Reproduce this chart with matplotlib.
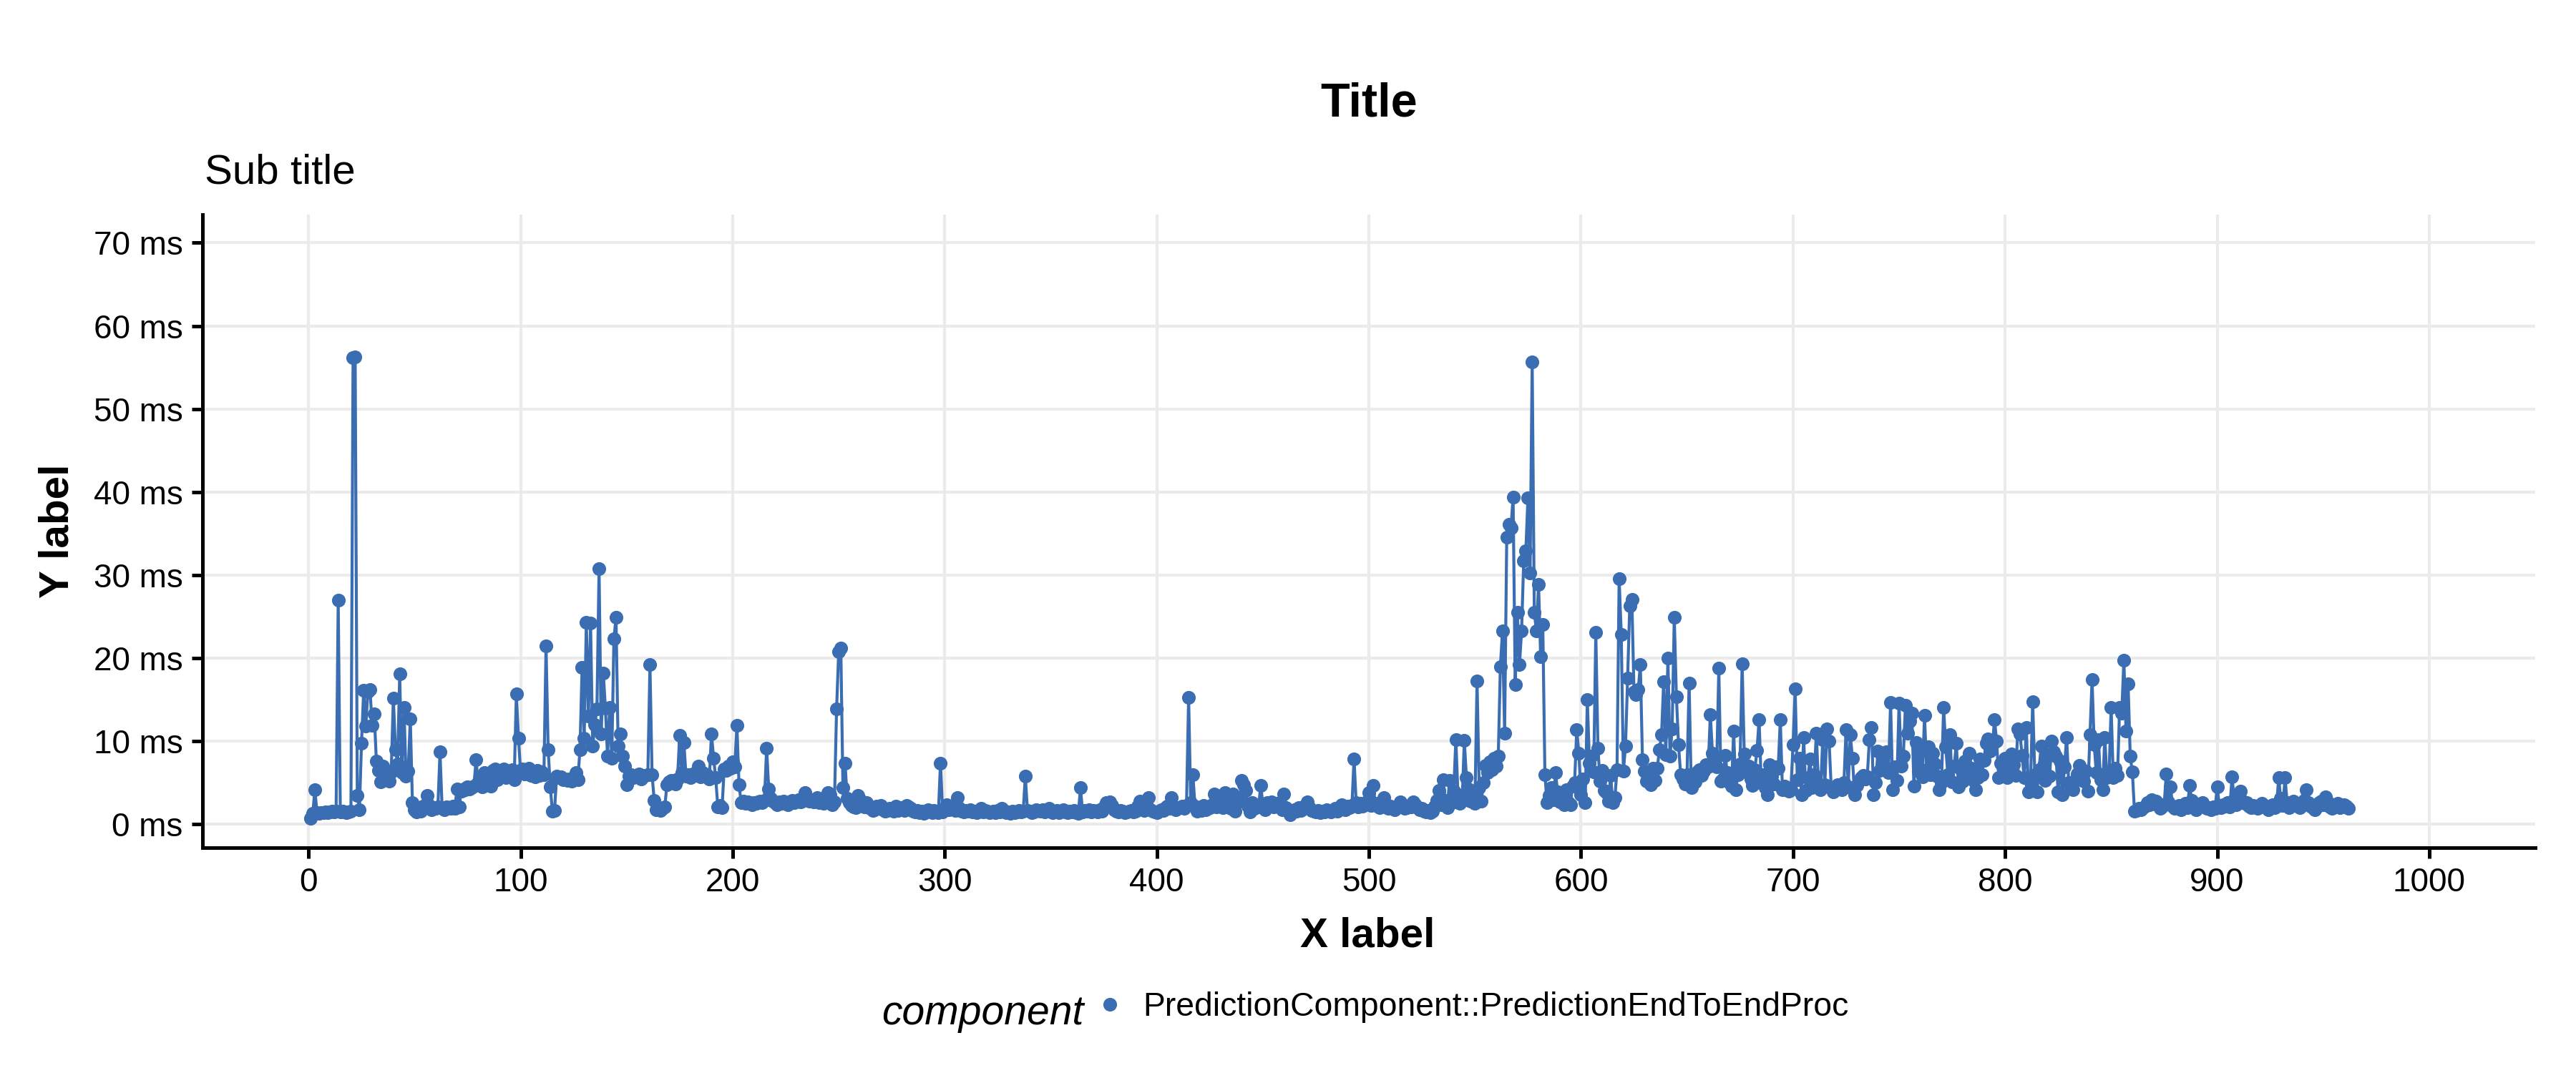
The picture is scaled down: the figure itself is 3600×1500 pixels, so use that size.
import numpy as np
import matplotlib

matplotlib.use("Agg")
import matplotlib.pyplot as plt
from matplotlib.lines import Line2D
from matplotlib.ticker import FuncFormatter, MultipleLocator

plt.rcParams["font.family"] = ["Liberation Sans", "DejaVu Sans"]

# latency per sample (ms), samples 1..962
latency_ms = [
    # 1-100
    0.7, 1.3, 4.2, 1.4, 1.3, 1.4, 1.4, 1.5, 1.4, 1.5,
    1.6, 1.5, 1.6, 27.0, 1.5, 1.6, 1.5, 1.4, 1.5, 1.6,
    56.2, 56.3, 3.5, 1.8, 9.8, 16.1, 11.8, 16.0, 16.2, 11.9,
    13.3, 7.6, 6.5, 5.1, 7.0, 5.8, 6.2, 5.2, 6.3, 15.2,
    9.0, 7.3, 18.1, 6.2, 14.1, 5.8, 6.4, 12.7, 2.6, 1.8,
    1.5, 1.7, 1.6, 2.2, 2.0, 3.5, 2.3, 1.8, 2.0, 1.9,
    2.1, 8.7, 2.0, 1.8, 2.1, 2.0, 1.9, 2.2, 1.9, 4.3,
    2.1, 4.0, 4.3, 4.2, 4.5, 4.3, 4.4, 4.6, 7.8, 5.0,
    4.8, 4.5, 6.2, 4.9, 5.3, 4.6, 6.5, 6.7, 5.4, 5.9,
    6.1, 6.7, 5.6, 6.4, 6.0, 6.6, 5.4, 15.7, 10.4, 6.3,
    # 101-200
    6.7, 6.1, 6.6, 6.8, 5.9, 6.2, 5.7, 6.5, 5.9, 6.3,
    6.0, 21.5, 9.0, 4.5, 1.6, 1.7, 5.8, 5.6, 5.7, 5.4,
    5.5, 5.3, 5.5, 5.2, 5.6, 6.2, 5.4, 9.0, 18.9, 10.4,
    24.3, 13.0, 24.2, 9.4, 12.0, 13.9, 30.8, 10.9, 18.2, 14.0,
    8.2, 14.1, 8.0, 22.3, 24.9, 9.4, 10.9, 8.2, 7.0, 4.8,
    5.8, 6.0, 5.6, 5.9, 5.7, 6.1, 5.5, 5.8, 5.9, 6.0,
    19.2, 6.0, 2.9, 1.8, 1.8, 1.7, 1.9, 2.1, 4.8, 5.1,
    5.3, 5.0, 4.9, 5.5, 10.7, 6.2, 9.9, 5.8, 6.0, 5.6,
    6.1, 5.9, 6.4, 7.0, 5.7, 6.2, 5.8, 6.0, 5.5, 10.9,
    8.0, 5.6, 2.1, 2.3, 2.0, 6.7, 6.5, 7.0, 6.8, 7.5,
    # 201-300
    6.9, 11.9, 4.8, 2.6, 2.8, 2.5, 2.7, 2.6, 2.4, 2.6,
    2.5, 2.7, 2.8, 2.6, 2.9, 9.2, 4.3, 3.1, 2.8, 2.6,
    2.4, 2.7, 2.5, 2.8, 2.6, 2.4, 2.7, 2.9, 2.6, 2.8,
    3.0, 2.7, 2.9, 3.8, 3.1, 2.8, 3.0, 2.7, 2.9, 3.2,
    2.6, 2.8, 2.5, 3.0, 3.8, 3.6, 2.4, 2.7, 13.9, 20.8,
    21.2, 4.4, 7.4, 3.1, 2.6, 2.3, 2.1, 2.0, 3.5, 3.0,
    2.4, 2.1, 2.6, 2.0, 1.9, 1.7, 1.8, 2.2, 1.9, 2.3,
    1.8, 1.6, 1.7, 1.9, 1.8, 1.6, 2.2, 1.7, 2.0, 1.8,
    1.7, 2.3, 2.1, 1.9, 1.6, 1.5, 1.7, 1.4, 1.6, 1.3,
    1.5, 1.8, 1.6, 1.4, 1.7, 1.5, 1.4, 7.4, 1.5, 1.9,
    # 301-400
    2.4, 1.8, 2.1, 1.9, 1.7, 3.2, 1.9, 1.6, 1.5, 1.7,
    1.6, 1.8, 1.5, 1.6, 1.4, 1.6, 1.9, 1.5, 1.7, 1.6,
    1.4, 1.5, 1.6, 1.4, 1.7, 1.5, 1.9, 1.6, 1.4, 1.5,
    1.3, 1.6, 1.4, 1.5, 1.7, 1.5, 1.6, 5.8, 1.7, 1.6,
    1.4, 1.5, 1.8, 1.7, 1.6, 1.8, 1.5, 1.7, 1.9, 1.6,
    1.4, 1.5, 1.7, 1.4, 1.6, 1.8, 1.5, 1.4, 1.6, 1.5,
    1.7, 1.4, 1.3, 4.4, 1.5, 1.7, 1.6, 1.8, 1.5, 1.7,
    1.6, 1.5, 1.8, 1.6, 2.1, 2.6, 2.5, 2.7, 2.3, 1.8,
    1.6, 1.5, 1.7, 1.6, 1.4, 1.5, 1.6, 1.7, 1.5, 1.6,
    2.2, 2.8, 2.0, 1.7, 2.5, 3.2, 1.8, 1.6, 1.5, 1.4,
    # 401-500
    1.6, 1.8, 1.7, 2.0, 2.2, 1.9, 3.2, 2.1, 1.8, 1.9,
    2.0, 2.2, 1.9, 2.3, 15.3, 2.6, 6.0, 2.2, 1.6, 2.0,
    1.7, 2.3, 1.8, 1.9, 2.0, 2.4, 3.7, 2.1, 3.4, 2.5,
    2.0, 3.8, 2.4, 2.9, 1.9, 3.7, 1.6, 3.1, 2.8, 5.3,
    4.8, 4.1, 2.2, 1.5, 2.6, 1.9, 2.3, 2.1, 4.7, 2.4,
    1.8, 2.6, 2.3, 2.7, 2.1, 2.5, 2.2, 2.6, 1.8, 3.7,
    2.0, 1.6, 1.2, 1.5, 1.8, 1.6, 2.0, 1.7, 2.1, 2.3,
    2.7, 2.0, 1.7, 1.6, 1.5, 1.7, 1.4, 1.6, 1.5, 1.8,
    1.6, 1.5, 1.7, 1.9, 1.6, 2.0, 2.4, 2.1, 1.8, 2.2,
    2.0, 2.3, 7.9, 2.6, 2.1, 2.5, 2.2, 2.4, 2.7, 3.8,
    # 501-600
    2.3, 4.7, 2.5, 2.2, 2.0, 2.4, 3.2, 2.1, 1.9, 2.2,
    2.0, 1.8, 2.1, 2.3, 2.7, 2.2, 1.9, 2.0, 2.3, 2.1,
    2.7, 2.4, 2.0, 1.8, 1.9, 1.6, 1.5, 1.7, 1.4, 1.6,
    2.2, 2.9, 4.1, 2.4, 5.4, 2.9, 2.0, 5.3, 2.6, 4.0,
    10.2, 3.6, 2.5, 3.0, 10.1, 5.6, 4.3, 2.8, 3.4, 2.5,
    17.3, 4.4, 2.8, 5.0, 7.1, 6.2, 7.5, 6.6, 8.0, 7.0,
    8.2, 19.0, 23.3, 11.0, 34.6, 36.1, 35.7, 39.4, 16.8, 25.5,
    19.2, 23.3, 31.7, 32.9, 39.3, 30.3, 55.7, 25.5, 23.3, 28.9,
    20.2, 24.1, 6.0, 2.6, 3.5, 4.4, 3.0, 6.2, 3.9, 2.7,
    3.2, 2.4, 4.2, 2.6, 2.4, 4.6, 5.0, 11.4, 8.6, 3.6,
    # 601-700
    5.5, 2.6, 15.0, 7.4, 8.2, 6.3, 23.1, 9.2, 5.2, 6.5,
    4.1, 3.8, 2.8, 5.9, 2.6, 3.2, 6.6, 29.6, 22.9, 6.4,
    9.4, 17.6, 26.3, 27.1, 16.0, 15.6, 16.2, 19.2, 7.8, 6.4,
    5.2, 6.2, 4.8, 6.8, 5.3, 6.8, 9.0, 10.8, 17.2, 8.4,
    20.0, 8.2, 11.5, 24.9, 15.4, 9.6, 6.0, 5.5, 4.9, 6.0,
    17.0, 4.4, 5.8, 5.1, 6.3, 6.6, 5.9, 6.4, 7.2, 6.9,
    13.2, 8.6, 7.5, 6.9, 18.8, 5.2, 5.5, 8.3, 6.2, 5.0,
    4.6, 11.2, 4.2, 6.0, 7.3, 19.3, 8.5, 6.4, 7.0, 5.5,
    4.7, 6.6, 8.9, 12.6, 5.0, 6.0, 4.4, 3.6, 7.2, 5.8,
    4.9, 6.9, 6.8, 12.6, 4.2, 4.6, 4.3, 4.0, 4.2, 9.6,
    # 701-800
    16.3, 5.4, 8.0, 3.6, 10.5, 4.1, 5.6, 7.9, 4.4, 6.0,
    11.0, 4.6, 4.2, 10.2, 4.8, 11.5, 10.0, 4.4, 3.9, 4.3,
    4.8, 4.5, 4.2, 5.0, 11.4, 4.5, 10.8, 8.0, 3.6, 4.7,
    5.3, 5.6, 5.9, 5.5, 5.7, 10.2, 11.7, 3.6, 5.0, 8.8,
    6.5, 8.4, 7.0, 8.7, 6.2, 14.7, 4.2, 6.9, 5.3, 14.6,
    7.0, 8.2, 14.3, 11.0, 12.4, 13.4, 4.6, 9.9, 6.4, 8.8,
    5.7, 13.1, 6.6, 9.3, 6.0, 8.6, 7.3, 5.8, 4.2, 5.0,
    14.1, 9.3, 6.0, 10.8, 5.1, 7.0, 9.8, 4.5, 6.7, 5.2,
    7.6, 6.1, 8.6, 6.8, 5.3, 4.2, 5.6, 7.9, 6.0, 7.7,
    9.8, 10.3, 8.8, 9.5, 12.6, 10.0, 5.6, 7.4, 6.9, 8.0,
    # 801-900
    5.6, 6.8, 8.5, 7.2, 5.9, 11.5, 10.9, 8.3, 5.6, 11.7,
    3.9, 5.0, 14.8, 6.0, 3.9, 6.6, 9.4, 7.1, 5.3, 8.4,
    5.8, 10.0, 8.7, 8.2, 3.9, 7.6, 3.6, 6.9, 10.5, 5.0,
    4.6, 4.2, 5.3, 6.1, 7.1, 5.8, 5.2, 6.4, 4.0, 10.8,
    17.4, 9.6, 6.2, 10.2, 5.4, 4.2, 10.5, 5.6, 6.0, 14.1,
    5.6, 6.8, 5.9, 14.1, 13.4, 19.8, 11.2, 16.9, 8.2, 6.3,
    1.6, 1.7, 1.9, 1.8, 2.0, 2.2, 2.6, 2.4, 3.0, 2.5,
    2.8, 2.3, 1.9, 2.1, 2.4, 6.1, 2.7, 4.5, 2.2, 1.9,
    2.0, 2.3, 1.8, 2.1, 2.5, 2.0, 4.7, 2.9, 2.2, 1.8,
    2.1, 2.3, 2.6, 2.2, 1.9, 2.0, 1.8, 2.1, 1.9, 4.5,
    # 901-962
    2.3, 2.0, 2.4, 2.2, 2.6, 2.1, 5.7, 3.0, 2.4, 2.7,
    4.0, 2.8, 2.5, 2.6, 2.2, 2.0, 2.3, 2.1, 1.9, 2.2,
    2.5, 2.3, 2.0, 1.8, 2.1, 2.4, 2.0, 2.2, 5.6, 3.1,
    2.3, 5.6, 2.6, 2.0, 2.4, 2.8, 2.5, 2.2, 2.0, 2.3,
    2.9, 4.2, 2.6, 2.2, 2.0, 1.8, 2.1, 2.6, 2.8, 2.4,
    3.3, 2.7, 2.1, 1.9, 2.3, 2.2, 2.5, 2.0, 2.1, 2.4,
    2.2, 1.9,
]
sample_idx = np.arange(1, len(latency_ms) + 1)
component = "PredictionComponent::PredictionEndToEndProc"

line_color = "#3A6DB1"
grid_color = "#EBEBEB"

fig = plt.figure(figsize=(12, 5), dpi=300)
ax = fig.add_axes([0.0786, 0.21, 0.9056, 0.59])

ax.plot(
    sample_idx,
    latency_ms,
    color=line_color,
    lw=1.0,
    marker="o",
    ms=4.6,
    mew=0,
    zorder=3,
)

ax.set_xlim(-50, 1050)
ax.set_ylim(-2.8, 73.4)
ax.xaxis.set_major_locator(MultipleLocator(100))
ax.yaxis.set_major_locator(MultipleLocator(10))
ax.yaxis.set_major_formatter(FuncFormatter(lambda v, p: "%d ms" % v))

ax.grid(True, color=grid_color, lw=1.0, zorder=0)
ax.set_axisbelow(True)
for side in ["top", "right"]:
    ax.spines[side].set_visible(False)
for side in ["left", "bottom"]:
    ax.spines[side].set_linewidth(1.2)
    ax.spines[side].set_color("black")
ax.tick_params(
    axis="both",
    direction="out",
    length=3.6,
    width=1.2,
    color="black",
    labelsize=11,
    labelcolor="black",
    pad=3,
)

fig.text(0.5314, 0.903, "Title", ha="center", va="center",
         fontsize=16, fontweight="bold")
fig.text(0.0794, 0.8287, "Sub title", ha="left", va="baseline", fontsize=14)
fig.text(0.531, 0.128, "X label", ha="center", va="center",
         fontsize=14, fontweight="bold")
fig.text(0.0225, 0.5053, "Y label", ha="center", va="center", rotation=90,
         fontsize=14, fontweight="bold")

# legend at the bottom, ggplot style: title to the left of the key
fig.text(0.3422, 0.0453, "component", ha="left", va="baseline",
         fontsize=13.7, style="italic")
key = Line2D([], [], color=line_color, marker="o", ms=4.6, mew=0, lw=0)
fig.legend(
    handles=[key],
    labels=[component],
    loc="center left",
    bbox_to_anchor=(0.4245, 0.0615),
    frameon=False,
    fontsize=11.1,
    handlelength=1.0,
    handletextpad=0.5,
    borderpad=0,
    borderaxespad=0,
)

fig.savefig("out.png", dpi=300, facecolor="white")
plt.close(fig)
